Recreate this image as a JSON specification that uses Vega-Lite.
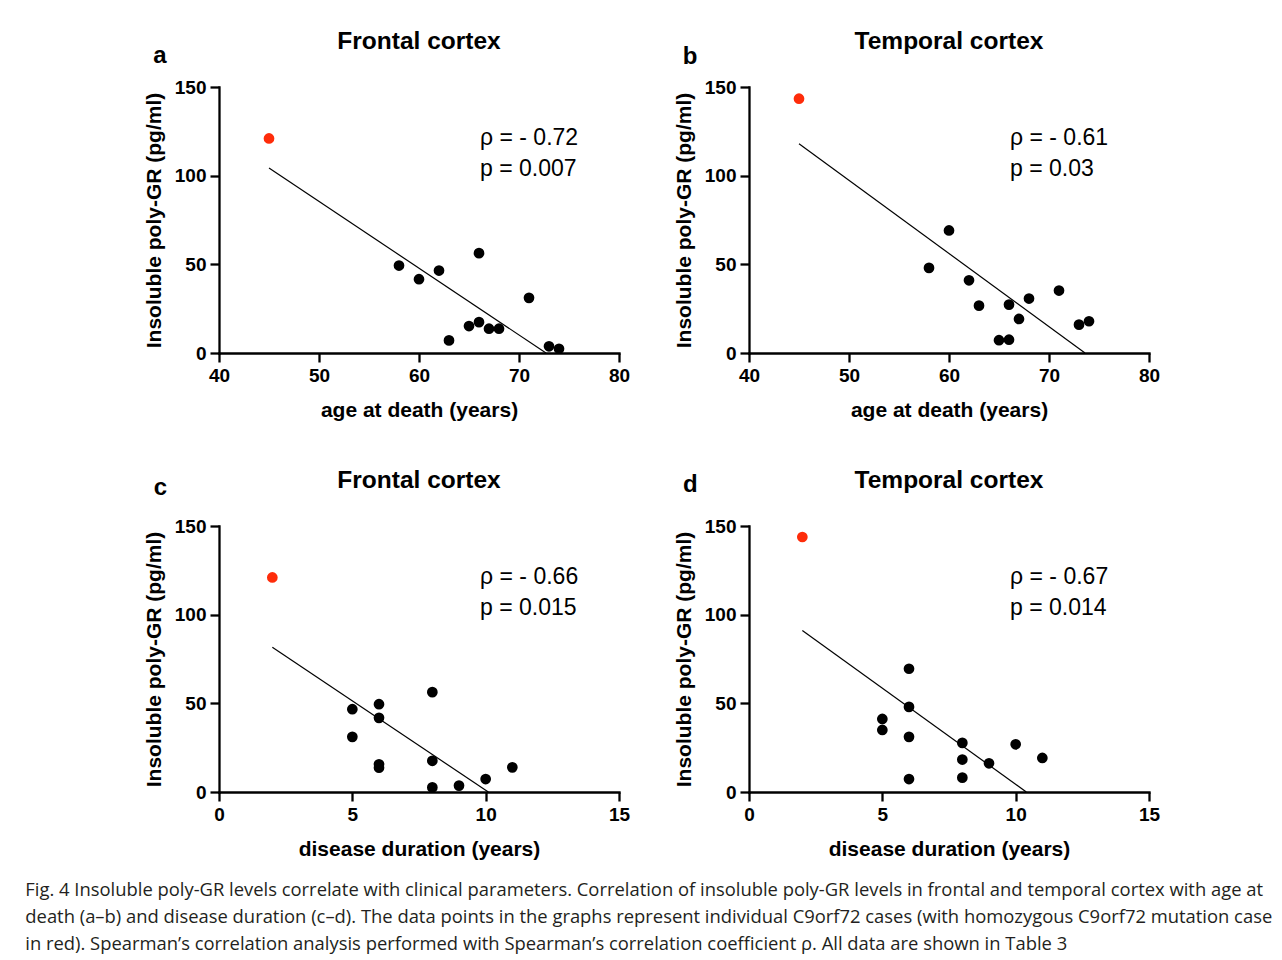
{
  "$schema": "https://vega.github.io/schema/vega-lite/v6.json",
  "background": "white",
  "autosize": {"type": "pad"},
  "padding": {"left": 25, "top": 28, "right": 5, "bottom": 5},
  "datasets": {
    "pts": [
      {"panel": "a", "x": 45, "y": 121, "red": true},
      {"panel": "a", "x": 58, "y": 49.3, "red": false},
      {"panel": "a", "x": 60, "y": 41.6, "red": false},
      {"panel": "a", "x": 62, "y": 46.5, "red": false},
      {"panel": "a", "x": 63, "y": 7.1, "red": false},
      {"panel": "a", "x": 65, "y": 15.2, "red": false},
      {"panel": "a", "x": 66, "y": 56.3, "red": false},
      {"panel": "a", "x": 66, "y": 17.4, "red": false},
      {"panel": "a", "x": 67, "y": 13.7, "red": false},
      {"panel": "a", "x": 68, "y": 13.7, "red": false},
      {"panel": "a", "x": 71, "y": 31.1, "red": false},
      {"panel": "a", "x": 73, "y": 3.8, "red": false},
      {"panel": "a", "x": 74, "y": 2.4, "red": false},
      {"panel": "b", "x": 45, "y": 143.4, "red": true},
      {"panel": "b", "x": 58, "y": 48, "red": false},
      {"panel": "b", "x": 60, "y": 69.1, "red": false},
      {"panel": "b", "x": 62, "y": 41, "red": false},
      {"panel": "b", "x": 63, "y": 26.7, "red": false},
      {"panel": "b", "x": 65, "y": 7.2, "red": false},
      {"panel": "b", "x": 66, "y": 27.3, "red": false},
      {"panel": "b", "x": 66, "y": 7.5, "red": false},
      {"panel": "b", "x": 67, "y": 19.2, "red": false},
      {"panel": "b", "x": 68, "y": 30.7, "red": false},
      {"panel": "b", "x": 71, "y": 35.2, "red": false},
      {"panel": "b", "x": 73, "y": 16, "red": false},
      {"panel": "b", "x": 74, "y": 17.9, "red": false},
      {"panel": "c", "x": 2, "y": 121, "red": true},
      {"panel": "c", "x": 5, "y": 46.7, "red": false},
      {"panel": "c", "x": 5, "y": 31.1, "red": false},
      {"panel": "c", "x": 6, "y": 49.5, "red": false},
      {"panel": "c", "x": 6, "y": 41.8, "red": false},
      {"panel": "c", "x": 6, "y": 15.6, "red": false},
      {"panel": "c", "x": 6, "y": 13.7, "red": false},
      {"panel": "c", "x": 8, "y": 56.3, "red": false},
      {"panel": "c", "x": 8, "y": 17.6, "red": false},
      {"panel": "c", "x": 8, "y": 2.6, "red": false},
      {"panel": "c", "x": 9, "y": 3.6, "red": false},
      {"panel": "c", "x": 10, "y": 7.3, "red": false},
      {"panel": "c", "x": 11, "y": 13.9, "red": false},
      {"panel": "d", "x": 2, "y": 143.8, "red": true},
      {"panel": "d", "x": 5, "y": 41.2, "red": false},
      {"panel": "d", "x": 5, "y": 35, "red": false},
      {"panel": "d", "x": 6, "y": 69.5, "red": false},
      {"panel": "d", "x": 6, "y": 48, "red": false},
      {"panel": "d", "x": 6, "y": 31.1, "red": false},
      {"panel": "d", "x": 6, "y": 7.3, "red": false},
      {"panel": "d", "x": 8, "y": 27.7, "red": false},
      {"panel": "d", "x": 8, "y": 18.3, "red": false},
      {"panel": "d", "x": 8, "y": 8.1, "red": false},
      {"panel": "d", "x": 9, "y": 16.2, "red": false},
      {"panel": "d", "x": 10, "y": 26.9, "red": false},
      {"panel": "d", "x": 11, "y": 19.2, "red": false}
    ],
    "fit": [
      {"panel": "a", "x": 45, "y": 104.3},
      {"panel": "a", "x": 72.7, "y": 0},
      {"panel": "b", "x": 45, "y": 118},
      {"panel": "b", "x": 73.6, "y": 0},
      {"panel": "c", "x": 2, "y": 81.6},
      {"panel": "c", "x": 10.1, "y": 0},
      {"panel": "d", "x": 2, "y": 91.1},
      {"panel": "d", "x": 10.4, "y": 0}
    ],
    "notes": [
      {"panel": "a", "letter": "a", "title": "Frontal cortex", "rho": "ρ = - 0.72", "p": "p = 0.007"},
      {"panel": "b", "letter": "b", "title": "Temporal cortex", "rho": "ρ = - 0.61", "p": "p = 0.03"},
      {"panel": "c", "letter": "c", "title": "Frontal cortex", "rho": "ρ = - 0.66", "p": "p = 0.015"},
      {"panel": "d", "letter": "d", "title": "Temporal cortex", "rho": "ρ = - 0.67", "p": "p = 0.014"}
    ]
  },
  "config": {
    "view": {"stroke": null},
    "font": "Liberation Sans",
    "axis": {
      "domainColor": "black", "domainWidth": 2.3, "domainCap": "square",
      "tickColor": "black", "tickWidth": 2.3, "tickSize": 9,
      "labelFont": "Liberation Sans", "labelFontSize": 19, "labelFontWeight": "bold", "labelColor": "black",
      "labelFlush": false, "labelOverlap": false, "labelPadding": 4,
      "titleFont": "Liberation Sans", "titleFontSize": 21, "titleFontWeight": "bold", "titleColor": "black",
      "titlePadding": 10, "grid": false
    },
    "axisX": {"titlePadding": 14},
    "text": {"font": "Liberation Sans", "color": "black"}
  },
  "title": {
    "text": [
      "Fig. 4  Insoluble poly-GR levels correlate with clinical parameters. Correlation of insoluble poly-GR levels in frontal and temporal cortex with age at",
      "death (a–b) and disease duration (c–d). The data points in the graphs represent individual C9orf72 cases (with homozygous C9orf72 mutation case",
      "in red). Spearman’s correlation analysis performed with Spearman’s correlation coefficient ρ. All data are shown in Table 3"
    ],
    "orient": "bottom", "anchor": "start", "frame": "bounds",
    "font": "Open Sans", "fontSize": 18.4, "fontWeight": "normal", "color": "#231f20",
    "lineHeight": 27, "offset": 22, "dx": -118
  },
  "columns": 2,
  "spacing": {"row": 173, "column": 130},
  "bounds": "flush",
  "concat": [
    {
      "width": 400, "height": 266,
      "layer": [
        {"data": {"name": "fit"}, "transform": [{"filter": "datum.panel === 'a'"}],
         "mark": {"type": "line", "color": "black", "strokeWidth": 1.2},
         "encoding": {"x": {"field": "x", "type": "quantitative", "scale": {"domain": [40, 80], "nice": false, "zero": false}, "axis": {"title": "age at death (years)", "values": [40, 50, 60, 70, 80]}},
                      "y": {"field": "y", "type": "quantitative", "scale": {"domain": [0, 150], "nice": false}, "axis": {"title": "Insoluble poly-GR (pg/ml)", "values": [0, 50, 100, 150]}}}},
        {"data": {"name": "pts"}, "transform": [{"filter": "datum.panel === 'a'"}],
         "mark": {"type": "point", "filled": true, "size": 115, "opacity": 1},
         "encoding": {"x": {"field": "x", "type": "quantitative", "title": "age at death (years)"}, "y": {"field": "y", "type": "quantitative", "title": "Insoluble poly-GR (pg/ml)"},
                      "color": {"condition": {"test": "datum.red", "value": "#fe2c0a"}, "value": "black"}}},
        {"data": {"name": "notes"}, "transform": [{"filter": "datum.panel === 'a'"}],
         "mark": {"type": "text", "align": "left", "baseline": "middle", "fontSize": 23},
         "encoding": {"x": {"datum": 66.1}, "y": {"datum": 121}, "text": {"field": "rho"}}},
        {"data": {"name": "notes"}, "transform": [{"filter": "datum.panel === 'a'"}],
         "mark": {"type": "text", "align": "left", "baseline": "middle", "fontSize": 23},
         "encoding": {"x": {"datum": 66.1}, "y": {"datum": 104}, "text": {"field": "p"}}},
        {"data": {"name": "notes"}, "transform": [{"filter": "datum.panel === 'a'"}],
         "mark": {"type": "text", "align": "center", "baseline": "middle", "fontSize": 24.5, "fontWeight": "bold"},
         "encoding": {"x": {"datum": 60}, "y": {"datum": 175.5}, "text": {"field": "title"}}},
        {"data": {"name": "notes"}, "transform": [{"filter": "datum.panel === 'a'"}],
         "mark": {"type": "text", "align": "center", "baseline": "middle", "fontSize": 24, "fontWeight": "bold"},
         "encoding": {"x": {"datum": 34.1}, "y": {"datum": 167.3}, "text": {"field": "letter"}}}
      ]
    },
    {
      "width": 400, "height": 266,
      "layer": [
        {"data": {"name": "fit"}, "transform": [{"filter": "datum.panel === 'b'"}],
         "mark": {"type": "line", "color": "black", "strokeWidth": 1.2},
         "encoding": {"x": {"field": "x", "type": "quantitative", "scale": {"domain": [40, 80], "nice": false, "zero": false}, "axis": {"title": "age at death (years)", "values": [40, 50, 60, 70, 80]}},
                      "y": {"field": "y", "type": "quantitative", "scale": {"domain": [0, 150], "nice": false}, "axis": {"title": "Insoluble poly-GR (pg/ml)", "values": [0, 50, 100, 150]}}}},
        {"data": {"name": "pts"}, "transform": [{"filter": "datum.panel === 'b'"}],
         "mark": {"type": "point", "filled": true, "size": 115, "opacity": 1},
         "encoding": {"x": {"field": "x", "type": "quantitative", "title": "age at death (years)"}, "y": {"field": "y", "type": "quantitative", "title": "Insoluble poly-GR (pg/ml)"},
                      "color": {"condition": {"test": "datum.red", "value": "#fe2c0a"}, "value": "black"}}},
        {"data": {"name": "notes"}, "transform": [{"filter": "datum.panel === 'b'"}],
         "mark": {"type": "text", "align": "left", "baseline": "middle", "fontSize": 23},
         "encoding": {"x": {"datum": 66.1}, "y": {"datum": 121}, "text": {"field": "rho"}}},
        {"data": {"name": "notes"}, "transform": [{"filter": "datum.panel === 'b'"}],
         "mark": {"type": "text", "align": "left", "baseline": "middle", "fontSize": 23},
         "encoding": {"x": {"datum": 66.1}, "y": {"datum": 104}, "text": {"field": "p"}}},
        {"data": {"name": "notes"}, "transform": [{"filter": "datum.panel === 'b'"}],
         "mark": {"type": "text", "align": "center", "baseline": "middle", "fontSize": 24.5, "fontWeight": "bold"},
         "encoding": {"x": {"datum": 60}, "y": {"datum": 175.5}, "text": {"field": "title"}}},
        {"data": {"name": "notes"}, "transform": [{"filter": "datum.panel === 'b'"}],
         "mark": {"type": "text", "align": "center", "baseline": "middle", "fontSize": 24, "fontWeight": "bold"},
         "encoding": {"x": {"datum": 34.1}, "y": {"datum": 167}, "text": {"field": "letter"}}}
      ]
    },
    {
      "width": 400, "height": 266,
      "layer": [
        {"data": {"name": "fit"}, "transform": [{"filter": "datum.panel === 'c'"}],
         "mark": {"type": "line", "color": "black", "strokeWidth": 1.2},
         "encoding": {"x": {"field": "x", "type": "quantitative", "scale": {"domain": [0, 15], "nice": false}, "axis": {"title": "disease duration (years)", "values": [0, 5, 10, 15]}},
                      "y": {"field": "y", "type": "quantitative", "scale": {"domain": [0, 150], "nice": false}, "axis": {"title": "Insoluble poly-GR (pg/ml)", "values": [0, 50, 100, 150]}}}},
        {"data": {"name": "pts"}, "transform": [{"filter": "datum.panel === 'c'"}],
         "mark": {"type": "point", "filled": true, "size": 115, "opacity": 1},
         "encoding": {"x": {"field": "x", "type": "quantitative", "title": "disease duration (years)"}, "y": {"field": "y", "type": "quantitative", "title": "Insoluble poly-GR (pg/ml)"},
                      "color": {"condition": {"test": "datum.red", "value": "#fe2c0a"}, "value": "black"}}},
        {"data": {"name": "notes"}, "transform": [{"filter": "datum.panel === 'c'"}],
         "mark": {"type": "text", "align": "left", "baseline": "middle", "fontSize": 23},
         "encoding": {"x": {"datum": 9.79}, "y": {"datum": 121}, "text": {"field": "rho"}}},
        {"data": {"name": "notes"}, "transform": [{"filter": "datum.panel === 'c'"}],
         "mark": {"type": "text", "align": "left", "baseline": "middle", "fontSize": 23},
         "encoding": {"x": {"datum": 9.79}, "y": {"datum": 104}, "text": {"field": "p"}}},
        {"data": {"name": "notes"}, "transform": [{"filter": "datum.panel === 'c'"}],
         "mark": {"type": "text", "align": "center", "baseline": "middle", "fontSize": 24.5, "fontWeight": "bold"},
         "encoding": {"x": {"datum": 7.5}, "y": {"datum": 175.5}, "text": {"field": "title"}}},
        {"data": {"name": "notes"}, "transform": [{"filter": "datum.panel === 'c'"}],
         "mark": {"type": "text", "align": "center", "baseline": "middle", "fontSize": 24, "fontWeight": "bold"},
         "encoding": {"x": {"datum": -2.2}, "y": {"datum": 171.7}, "text": {"field": "letter"}}}
      ]
    },
    {
      "width": 400, "height": 266,
      "layer": [
        {"data": {"name": "fit"}, "transform": [{"filter": "datum.panel === 'd'"}],
         "mark": {"type": "line", "color": "black", "strokeWidth": 1.2},
         "encoding": {"x": {"field": "x", "type": "quantitative", "scale": {"domain": [0, 15], "nice": false}, "axis": {"title": "disease duration (years)", "values": [0, 5, 10, 15]}},
                      "y": {"field": "y", "type": "quantitative", "scale": {"domain": [0, 150], "nice": false}, "axis": {"title": "Insoluble poly-GR (pg/ml)", "values": [0, 50, 100, 150]}}}},
        {"data": {"name": "pts"}, "transform": [{"filter": "datum.panel === 'd'"}],
         "mark": {"type": "point", "filled": true, "size": 115, "opacity": 1},
         "encoding": {"x": {"field": "x", "type": "quantitative", "title": "disease duration (years)"}, "y": {"field": "y", "type": "quantitative", "title": "Insoluble poly-GR (pg/ml)"},
                      "color": {"condition": {"test": "datum.red", "value": "#fe2c0a"}, "value": "black"}}},
        {"data": {"name": "notes"}, "transform": [{"filter": "datum.panel === 'd'"}],
         "mark": {"type": "text", "align": "left", "baseline": "middle", "fontSize": 23},
         "encoding": {"x": {"datum": 9.79}, "y": {"datum": 121}, "text": {"field": "rho"}}},
        {"data": {"name": "notes"}, "transform": [{"filter": "datum.panel === 'd'"}],
         "mark": {"type": "text", "align": "left", "baseline": "middle", "fontSize": 23},
         "encoding": {"x": {"datum": 9.79}, "y": {"datum": 104}, "text": {"field": "p"}}},
        {"data": {"name": "notes"}, "transform": [{"filter": "datum.panel === 'd'"}],
         "mark": {"type": "text", "align": "center", "baseline": "middle", "fontSize": 24.5, "fontWeight": "bold"},
         "encoding": {"x": {"datum": 7.5}, "y": {"datum": 175.5}, "text": {"field": "title"}}},
        {"data": {"name": "notes"}, "transform": [{"filter": "datum.panel === 'd'"}],
         "mark": {"type": "text", "align": "center", "baseline": "middle", "fontSize": 24, "fontWeight": "bold"},
         "encoding": {"x": {"datum": -2.2}, "y": {"datum": 173}, "text": {"field": "letter"}}}
      ]
    }
  ]
}
